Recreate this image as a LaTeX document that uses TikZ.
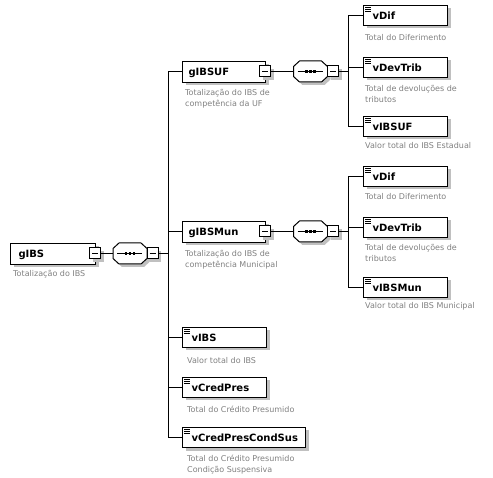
\documentclass[tikz,border=0pt]{standalone}
\usepackage{fontspec}
\usetikzlibrary{shadows}
\newfontfamily\elfont{DejaVu Sans}
\newfontfamily\lbfont{DejaVu Sans}
\definecolor{lblgray}{RGB}{128,128,128}
\definecolor{shadgray}{RGB}{192,192,192}
\tikzset{
  base/.style={line width=1pt, draw=black, fill=white},
  shad/.style={drop shadow={shadow xshift=3pt, shadow yshift=-3pt, fill=shadgray, opacity=1}},
  grp/.style={base, shad, rectangle, anchor=north west, inner sep=0pt, minimum height=21pt,
    text height=7.3pt, text depth=0pt, align=left,
    font=\elfont\bfseries\fontsize{10}{12}\selectfont},
  leaf/.style={grp, minimum height=20pt,
    path picture={
      \foreach \yy in {2,4,6}{
        \draw[line width=0.9pt] ([shift={(1.5pt,-\yy pt)}]path picture bounding box.north west) -- ++(6pt,0);
      }
    }},
  mbox/.style={base, shad, rectangle, minimum size=11pt, inner sep=0pt,
    path picture={\draw[line width=1pt] ([xshift=2.5pt]path picture bounding box.west) -- ([xshift=-2.5pt]path picture bounding box.east);}},
  seqnode/.style={rectangle, minimum width=34pt, minimum height=21pt, inner sep=0pt},
  seqpic/.pic={
    \fill[shadgray, shift={(3,3)}] (-17,-5) -- (-11,-10.5) -- (11,-10.5) -- (17,-5) -- (17,5) -- (11,10.5) -- (-11,10.5) -- (-17,5) -- cycle;
    \draw[base] (-17,-5) -- (-11,-10.5) -- (11,-10.5) -- (17,-5) -- (17,5) -- (11,10.5) -- (-11,10.5) -- (-17,5) -- cycle;
    \draw[line width=1pt] (-13,0) -- (12,0);
    \foreach \dx in {-4,0,4}{
      \fill (\dx-1.3,-1.3) rectangle (\dx+1.3,1.3);
    }
  },
  lbl/.style={anchor=north west, inner sep=0pt, align=left, text=lblgray,
    font=\lbfont\fontsize{8}{11}\selectfont},
  conn/.style={line width=1pt, draw=black}
}
\begin{document}
\begin{tikzpicture}[x=1pt,y=-1pt]
\useasboundingbox (0,0) rectangle (493,478);
% root
\node[grp, text width=85pt, minimum width=85pt] (gIBS) at (10,243) {\hspace*{8pt}gIBS};
\node[lbl] (gIBSl) at (13,268.3) {\strut Totalização do IBS};
\node[seqnode] (s0) at (130,253.5) {};
\pic at (s0.center) {seqpic};
\node[mbox] (m0) at (95,253.5) {};
\node[mbox] (sm0) at (152.5,253.5) {};
\coordinate (j0) at (168,253.5);
% gIBSUF
\node[grp, text width=83pt, minimum width=83pt] (gIBSUF) at (182,61) {\hspace*{6pt}gIBSUF};
\node[lbl] (gIBSUFl) at (185,87.8) {\strut Totalização do IBS de\\competência da UF};
\node[seqnode] (s1) at (310.5,71.5) {};
\pic at (s1.center) {seqpic};
\node[mbox] (m1) at (265,71.5) {};
\node[mbox] (sm1) at (333,71.5) {};
\coordinate (j1) at (348,71.5);
\node[leaf, text width=84pt, minimum width=84pt] (vDif1) at (363,5) {\hspace*{9pt}vDif};
\node[lbl] (vDif1l) at (365,32.3) {\strut Total do Diferimento};
\node[leaf, text width=84pt, minimum width=84pt] (vDevTrib1) at (363,57) {\hspace*{9pt}vDevTrib};
\node[lbl] (vDevTrib1l) at (365,83.3) {\strut Total de devoluções de\\tributos};
\node[leaf, text width=84pt, minimum width=84pt] (vIBSUF) at (363,116) {\hspace*{9pt}vIBSUF};
\node[lbl] (vIBSUFl) at (365,140.3) {\strut Valor total do IBS Estadual};
% gIBSMun
\node[grp, text width=83pt, minimum width=83pt] (gIBSMun) at (182,221) {\hspace*{6pt}gIBSMun};
\node[lbl] (gIBSMunl) at (185,248.3) {\strut Totalização do IBS de\\competência Municipal};
\node[seqnode] (s2) at (310.5,231.5) {};
\pic at (s2.center) {seqpic};
\node[mbox] (m2) at (265,231.5) {};
\node[mbox] (sm2) at (333,231.5) {};
\coordinate (j2) at (348,231.5);
\node[leaf, text width=84pt, minimum width=84pt] (vDif2) at (363,166) {\hspace*{9pt}vDif};
\node[lbl] (vDif2l) at (365,192) {\strut Total do Diferimento};
\node[leaf, text width=84pt, minimum width=84pt] (vDevTrib2) at (363,217) {\hspace*{9pt}vDevTrib};
\node[lbl] (vDevTrib2l) at (365,243) {\strut Total de devoluções de\\tributos};
\node[leaf, text width=84pt, minimum width=84pt] (vIBSMun) at (363,277) {\hspace*{9pt}vIBSMun};
\node[lbl] (vIBSMunl) at (365,300.3) {\strut Valor total do IBS Municipal};
% lower leaves
\node[leaf, text width=84pt, minimum width=84pt] (vIBS) at (182,327) {\hspace*{9pt}vIBS};
\node[lbl] (vIBSl) at (187,355.3) {\strut Valor total do IBS};
\node[leaf, text width=84pt, minimum width=84pt] (vCredPres) at (182,377) {\hspace*{9pt}vCredPres};
\node[lbl] (vCredPresl) at (187,404.3) {\strut Total do Crédito Presumido};
\node[leaf, text width=123pt, minimum width=123pt] (vCredPresCondSus) at (182,427) {\hspace*{9pt}vCredPresCondSus};
\node[lbl] (vCredPresCondSusl) at (187,453.3) {\strut Total do Crédito Presumido\\Condição Suspensiva};
% connectors root
\draw[conn] (m0.east) -- (s0.west);
\draw[conn] (sm0.east) -- (j0);
\draw[conn] (j0 |- gIBSUF.west) -- (j0 |- vCredPresCondSus.west);
\foreach \n in {gIBSUF,gIBSMun,vIBS,vCredPres,vCredPresCondSus}{
  \draw[conn] (j0 |- \n.west) -- (\n.west);
}
% connectors UF
\draw[conn] (m1.east) -- (s1.west);
\draw[conn] (sm1.east) -- (j1);
\draw[conn] (j1 |- vDif1.west) -- (j1 |- vIBSUF.west);
\foreach \n in {vDif1,vDevTrib1,vIBSUF}{
  \draw[conn] (j1 |- \n.west) -- (\n.west);
}
% connectors Mun
\draw[conn] (m2.east) -- (s2.west);
\draw[conn] (sm2.east) -- (j2);
\draw[conn] (j2 |- vDif2.west) -- (j2 |- vIBSMun.west);
\foreach \n in {vDif2,vDevTrib2,vIBSMun}{
  \draw[conn] (j2 |- \n.west) -- (\n.west);
}
\end{tikzpicture}
\end{document}
